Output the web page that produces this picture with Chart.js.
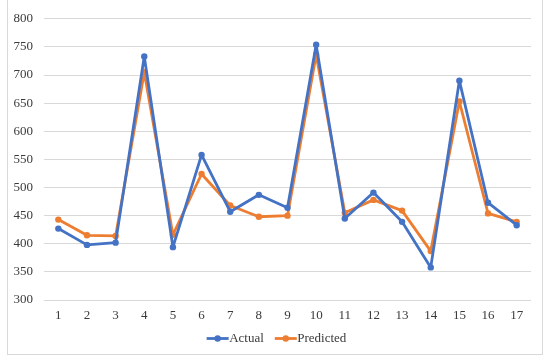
<!DOCTYPE html>
<html>
<head>
<meta charset="utf-8">
<script src="https://cdn.jsdelivr.net/npm/chart.js@4/dist/chart.umd.min.js"></script>
<style>
  body { margin: 0; background: #fff; }
  #frame { position: absolute; left: 7px; top: -2px; width: 534px; height: 355px; border: 1px solid #d9d9d9; }
  #wrap { position: absolute; left: 0; top: 0; width: 550px; height: 362px; }
</style>
</head>
<body>
<div id="frame"></div>
<div id="wrap"><canvas id="chart"></canvas></div>
<script>
// data
const labels = ["1","2","3","4","5","6","7","8","9","10","11","12","13","14","15","16","17"];
const actual = [427, 398, 402, 733, 394, 558, 457, 487, 464, 754, 445, 491, 439, 358, 690, 473, 433];
const predicted = [443, 415, 414, 705, 416, 524, 468, 448, 450, 736, 455, 478, 459, 387, 653, 454, 439];

const FONT = "'Liberation Serif', 'Times New Roman', serif";
const BLUE = "#4472C4";
const ORANGE = "#ED7D31";

// legend marker: short line with a dot in the middle
// (also nudges the legend so it is centred on the whole page)
const legendMarks = {
  id: "legendMarks",
  afterLayout(c) {
    if (c.legend) c.legend.left += 22;
  },
  afterDraw(c) {
    const lg = c.legend;
    if (!lg || !lg.legendHitBoxes) return;
    const ctx = c.ctx;
    lg.legendHitBoxes.forEach((h, i) => {
      const col = c.data.datasets[i].borderColor;
      const y = h.top + h.height / 2;
      ctx.save();
      ctx.strokeStyle = col;
      ctx.fillStyle = col;
      ctx.lineWidth = 2.8;
      ctx.beginPath();
      ctx.moveTo(h.left, y);
      ctx.lineTo(h.left + 22, y);
      ctx.stroke();
      ctx.beginPath();
      ctx.arc(h.left + 11, y, 3.2, 0, Math.PI * 2);
      ctx.fill();
      ctx.restore();
    });
  }
};

new Chart(document.getElementById("chart"), {
  type: "line",
  data: {
    labels: labels,
    datasets: [
      {
        label: "Actual",
        data: actual,
        borderColor: BLUE,
        backgroundColor: BLUE,
        borderWidth: 2.8,
        borderJoinStyle: "round",
        pointRadius: 3.2,
        pointBackgroundColor: BLUE,
        pointBorderWidth: 0,
        tension: 0
      },
      {
        label: "Predicted",
        data: predicted,
        borderColor: ORANGE,
        backgroundColor: ORANGE,
        borderWidth: 2.8,
        borderJoinStyle: "round",
        pointRadius: 3.2,
        pointBackgroundColor: ORANGE,
        pointBorderWidth: 0,
        tension: 0
      }
    ]
  },
  options: {
    responsive: true,
    maintainAspectRatio: false,
    animation: false,
    layout: { padding: { left: 0, right: 19, top: 17, bottom: 7 } },
    plugins: {
      legend: {
        position: "bottom",
        labels: {
          boxWidth: 16,
          boxHeight: 3,
          padding: 11,
          color: "#3a3a3a",
          font: { family: FONT, size: 13 },
          generateLabels: c => Chart.defaults.plugins.legend.labels.generateLabels(c).map(it => {
            it.fillStyle = "rgba(0,0,0,0)";
            it.strokeStyle = "rgba(0,0,0,0)";
            it.lineWidth = 0;
            return it;
          })
        }
      },
      tooltip: { enabled: false }
    },
    scales: {
      y: {
        min: 300,
        max: 800,
        ticks: {
          stepSize: 50,
          padding: 11,
          color: "#3a3a3a",
          font: { family: FONT, size: 13 }
        },
        grid: { color: "#d9d9d9", lineWidth: 1, drawTicks: false },
        border: { display: false },
        afterFit: s => { s.width = 44; }
      },
      x: {
        offset: true,
        ticks: {
          padding: 8,
          color: "#3a3a3a",
          font: { family: FONT, size: 13 },
          maxRotation: 0
        },
        grid: { display: false, drawTicks: false },
        border: { display: false },
        afterFit: s => { s.height = 21; }
      }
    }
  },
  plugins: [legendMarks]
});
</script>
</body>
</html>
